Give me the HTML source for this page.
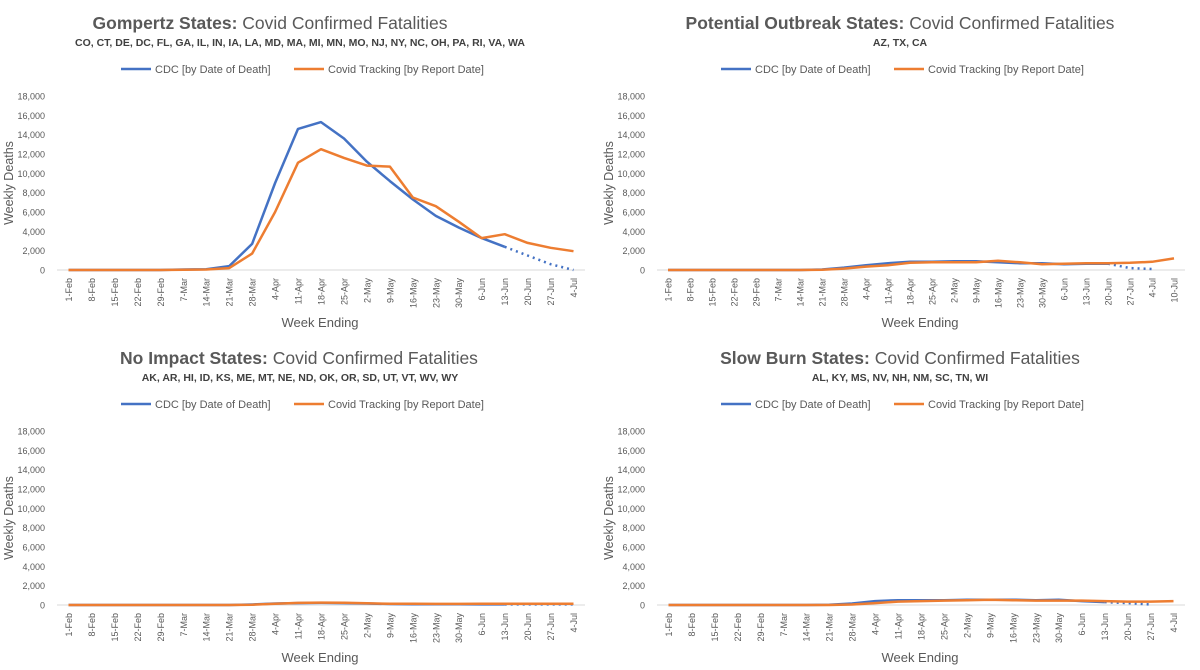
<!DOCTYPE html>
<html><head><meta charset="utf-8"><style>
body{margin:0;background:#fff;}
svg{display:block;font-family:"Liberation Sans",sans-serif;}
</style></head><body>
<svg id="c" width="1200" height="670" viewBox="0 0 1200 670"></svg>
<script>
const catsA = ["1-Feb","8-Feb","15-Feb","22-Feb","29-Feb","7-Mar","14-Mar","21-Mar","28-Mar","4-Apr","11-Apr","18-Apr","25-Apr","2-May","9-May","16-May","23-May","30-May","6-Jun","13-Jun","20-Jun","27-Jun","4-Jul"];
const catsB = catsA.concat(["10-Jul"]);
const yTicks = [0,2000,4000,6000,8000,10000,12000,14000,16000,18000];
const yTickLabels = ["0","2,000","4,000","6,000","8,000","10,000","12,000","14,000","16,000","18,000"];
// Gompertz
const gCdc = [0,0,0,0,0,50,80,400,2700,9000,14600,15300,13600,11200,9200,7300,5600,4400,3300,2400];
const gCdcProj = [2400,1500,600,0];
const gTrack = [0,0,0,0,0,30,50,200,1700,6000,11100,12500,11600,10800,10700,7500,6600,5000,3300,3700,2800,2300,1950];
// Potential outbreak
const pCdc = [0,0,0,0,0,0,0,50,250,500,700,850,850,900,900,800,700,700,600,650,650];
const pCdcProj = [650,200,100];
const pTrack = [0,0,0,0,0,0,0,30,150,350,500,750,800,800,800,950,800,600,650,700,700,750,850,1200];
// No impact
const nCdc = [0,0,0,0,0,0,0,0,50,150,200,220,200,150,100,80,80,80,60,60];
const nCdcProj = [60,60,60,60];
const nTrack = [0,0,0,0,0,0,0,0,30,120,220,250,240,180,120,120,110,110,120,120,120,120,120];
// Slow burn
const sCdc = [0,0,0,0,0,0,0,30,150,400,500,500,500,550,550,550,500,550,400,300];
const sCdcProj = [300,200,50];
const sTrack = [0,0,0,0,0,0,0,0,50,200,350,400,450,500,550,500,450,450,450,400,350,350,400];

const svg = document.getElementById('c');
const NS = 'http://www.w3.org/2000/svg';
function mk(tag, attrs, parent){const e=document.createElementNS(NS,tag);for(const k in attrs)e.setAttribute(k,attrs[k]);(parent||svg).appendChild(e);return e;}

function panel(ox, oy, boldTitle, subtitle, cats, cdc, proj, track, key, tcx){
  const g = mk('g',{});
  
  
  const cx = ox+300;
  const t = mk('text',{x:ox+tcx,y:oy+29,'text-anchor':'middle','font-size':17.5,fill:'#595959'},g);
  
  
  const b = mk('tspan',{'font-weight':'bold'},t); b.textContent = boldTitle;
  const r = mk('tspan',{},t); r.textContent = ' Covid Confirmed Fatalities';
  const st = mk('text',{x:cx,y:oy+46,'text-anchor':'middle','font-size':10.5,'font-weight':'bold',fill:'#404040'},g);
  
  
  st.textContent = subtitle;
  const lg = mk('g',{},g);
  
  
  mk('line',{x1:ox+121,x2:ox+151,y1:oy+69,y2:oy+69,stroke:'#4472C4','stroke-width':2.5},lg);
  const l1 = mk('text',{x:ox+155,y:oy+73,'font-size':11,fill:'#595959'},lg); l1.textContent='CDC [by Date of Death]';
  mk('line',{x1:ox+294,x2:ox+324,y1:oy+69,y2:oy+69,stroke:'#ED7D31','stroke-width':2.5},lg);
  const l2 = mk('text',{x:ox+328,y:oy+73,'font-size':11,fill:'#595959'},lg); l2.textContent='Covid Tracking [by Report Date]';
  const x0 = ox+57, x1 = ox+585, y0 = oy+270, yTop = oy+96;
  const n = cats.length;
  const step = (x1-x0)/n;
  const X = i => x0 + step*(i+0.5);
  const Y = v => y0 - (v/18000)*(y0-yTop);
  mk('line',{x1:x0,x2:x1,y1:y0,y2:y0,stroke:'#d9d9d9','stroke-width':1},g);
  yTicks.forEach((v,i)=>{
    const tl = mk('text',{x:ox+45,y:Y(v)+3.5,'text-anchor':'end','font-size':9,fill:'#595959'},g);
    
    
    tl.textContent = yTickLabels[i];
  });
  cats.forEach((c,i)=>{
    const tl = mk('text',{x:0,y:0,'text-anchor':'end','font-size':9,fill:'#595959',transform:`translate(${X(i)+3.5},${y0+8}) rotate(-90)`},g);
    
    
    tl.textContent = c;
  });
  const yt = mk('text',{x:0,y:0,'text-anchor':'middle','font-size':12.5,fill:'#595959',transform:`translate(${ox+13},${oy+183}) rotate(-90)`},g);
  
  
  yt.textContent='Weekly Deaths';
  const xt = mk('text',{x:ox+320,y:oy+327,'text-anchor':'middle','font-size':13,fill:'#595959'},g);
  
  
  xt.textContent='Week Ending';
  const pts = (arr,off)=>arr.map((v,i)=>X(i+off).toFixed(1)+','+Y(v).toFixed(1)).join(' ');
  const pc = mk('polyline',{points:pts(cdc,0),fill:'none',stroke:'#4472C4','stroke-width':2.5,'stroke-linejoin':'round'},g);
  
  
  const pp = mk('polyline',{points:pts(proj,cdc.length-1),fill:'none',stroke:'#4472C4','stroke-width':2.5,'stroke-dasharray':'2 4'},g);
  
  
  const pt = mk('polyline',{points:pts(track,0),fill:'none',stroke:'#ED7D31','stroke-width':2.5,'stroke-linejoin':'round'},g);
  
  
}
panel(0,0,'Gompertz States:','CO, CT, DE, DC, FL, GA, IL, IN, IA, LA, MD, MA, MI, MN, MO, NJ, NY, NC, OH, PA, RI, VA, WA',catsA,gCdc,gCdcProj,gTrack,'gompertz',270);
panel(600,0,'Potential Outbreak States:','AZ, TX, CA',catsB,pCdc,pCdcProj,pTrack,'outbreak',300);
panel(0,335,'No Impact States:','AK, AR, HI, ID, KS, ME, MT, NE, ND, OK, OR, SD, UT, VT, WV, WY',catsA,nCdc,nCdcProj,nTrack,'no-impact',299);
panel(600,335,'Slow Burn States:','AL, KY, MS, NV, NH, NM, SC, TN, WI',catsA,sCdc,sCdcProj,sTrack,'slow-burn',300);
</script>
</body></html>
